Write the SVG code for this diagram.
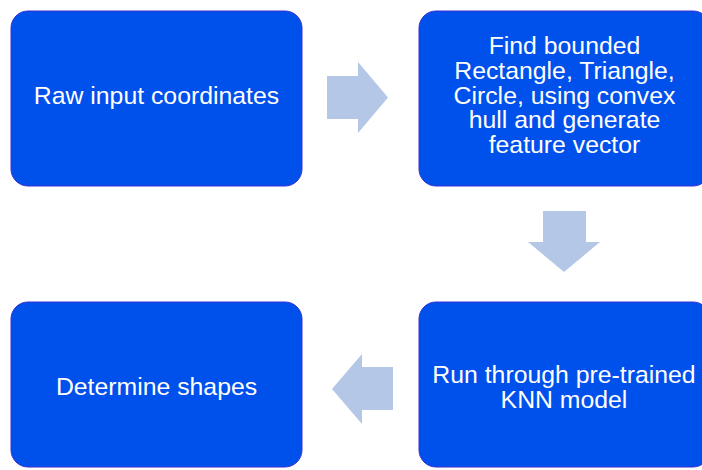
<svg xmlns="http://www.w3.org/2000/svg" width="702" height="470" viewBox="0 0 702 470">
<style>
.box{fill:#0050ec;stroke:#3b2fd2;stroke-width:1}
.t{font-family:"Liberation Sans",Arial,sans-serif;font-size:24.8px;fill:#ffffff;text-anchor:middle}
.arr{fill:#b4c7e7}
</style>
<rect width="702" height="470" fill="#ffffff"/>
<g id="n1"><rect class="box" x="11" y="11" width="291" height="175" rx="17"/><text class="t" x="156.5" y="104">Raw input coordinates</text></g>
<g id="n2"><rect class="box" x="419" y="11" width="291" height="175" rx="17"/><text class="t" x="564.5"><tspan x="564.5" y="54">Find bounded</tspan><tspan x="564.5" y="79">Rectangle, Triangle,</tspan><tspan x="564.5" y="103.5">Circle, using convex</tspan><tspan x="564.5" y="128">hull and generate</tspan><tspan x="564.5" y="153">feature vector</tspan></text></g>
<g id="n3"><rect class="box" x="419" y="302" width="291" height="165" rx="17"/><text class="t"><tspan x="564" y="383">Run through pre-trained</tspan><tspan x="564" y="408">KNN model</tspan></text></g>
<g id="n4"><rect class="box" x="11" y="302" width="291" height="165" rx="17"/><text class="t" x="156.5" y="395">Determine shapes</text></g>
<g id="connectors">
<polygon class="arr" points="327,76 358,76 358,62 388,97.5 358,133 358,119 327,119"/>
<polygon class="arr" points="543,211 586,211 586,242 600,242 564,272 528,242 543,242"/>
<polygon class="arr" points="393,367 362,367 362,354 332,389 362,424 362,410 393,410"/>
</g>
</svg>
